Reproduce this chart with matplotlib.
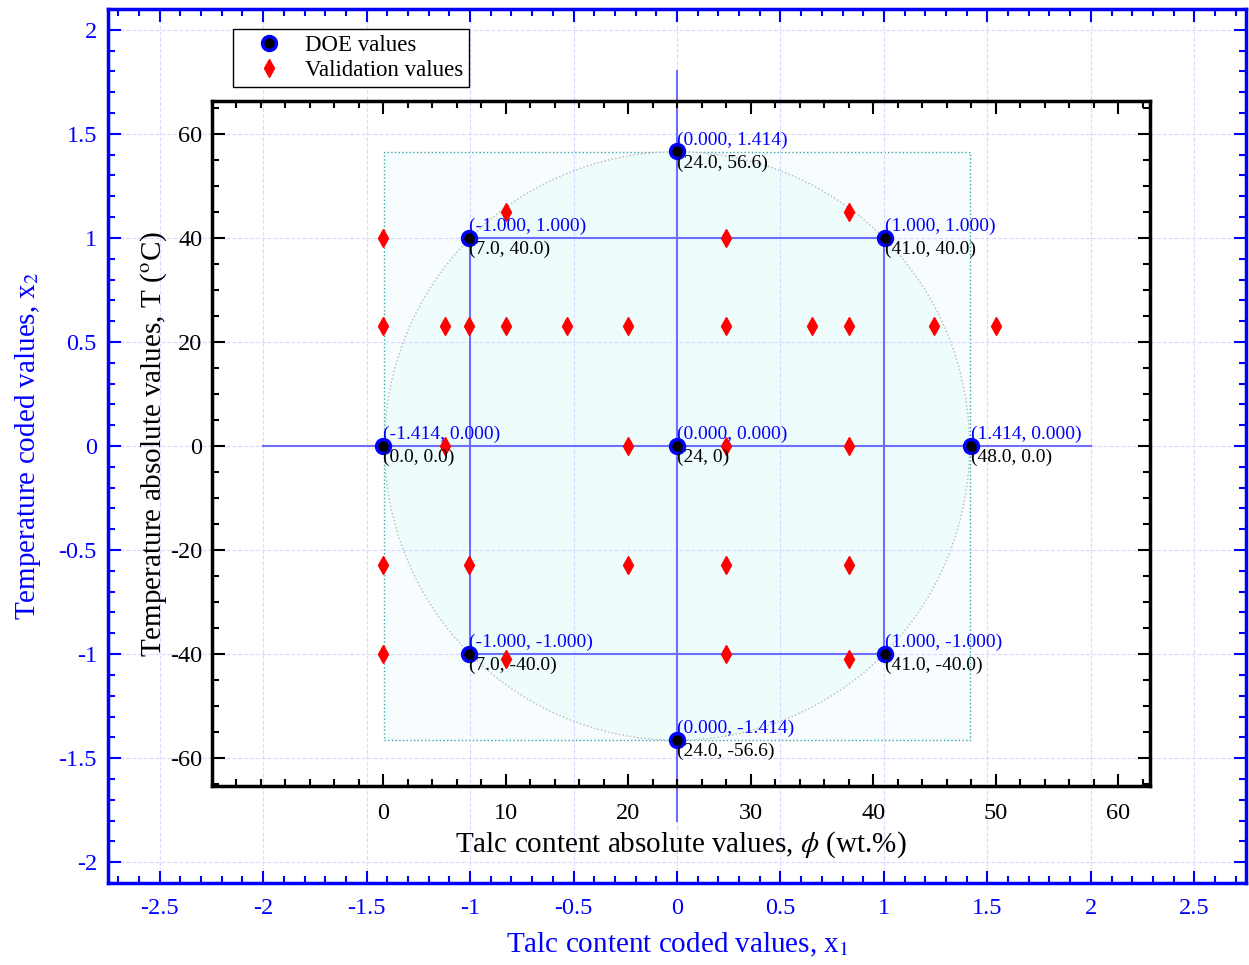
import numpy as np
import matplotlib.pyplot as plt
from matplotlib.patches import Rectangle, Circle
from matplotlib.ticker import MultipleLocator

plt.rcParams['font.family'] = ['Liberation Serif', 'DejaVu Serif']
plt.rcParams['mathtext.fontset'] = 'stix'
plt.rcParams['axes.unicode_minus'] = False

# DOE points (central composite design): coded and absolute values
doe_x1 = [0.0, -1.0, 1.0, -1.414, 0.0, 1.414, -1.0, 1.0, 0.0]
doe_x2 = [1.414, 1.0, 1.0, 0.0, 0.0, 0.0, -1.0, -1.0, -1.414]
doe_phi = [24.0, 7.0, 41.0, 0.0, 24.0, 48.0, 7.0, 41.0, 24.0]
doe_T = [56.6, 40.0, 40.0, 0.0, 0.0, 0.0, -40.0, -40.0, -56.6]
doe_abs_labels = ["(24.0, 56.6)", "(7.0, 40.0)", "(41.0, 40.0)", "(0.0, 0.0)",
                  "(24, 0)", "(48.0, 0.0)", "(7.0, -40.0)", "(41.0, -40.0)",
                  "(24.0, -56.6)"]

# validation runs (absolute values)
val_phi = [0, 28,
           10, 38,
           0, 5, 7, 10, 15, 20, 28, 35, 38, 45, 50,
           5, 20, 28, 38,
           0, 7, 20, 28, 38,
           0, 28,
           10, 38]
val_T = [40, 40,
         45, 45,
         23, 23, 23, 23, 23, 23, 23, 23, 23, 23, 23,
         0, 0, 0, 0,
         -23, -23, -23, -23, -23,
         -40, -40,
         -41, -41]

alpha_star = 1.414

fig = plt.figure(figsize=(12.49, 9.65), dpi=100)
ax_c = fig.add_axes([108/1249, 82/965, 1138/1249, 874/965])
ax_a = fig.add_axes([212/1249, 179/965, 938/1249, 685/965])
ax_a.patch.set_visible(False)

# ---- coded axes (blue, behind) ----
ax_c.set_xlim(-2.75, 2.75)
ax_c.set_ylim(-2.1, 2.1)
ax_c.xaxis.set_minor_locator(MultipleLocator(0.1))
ax_c.yaxis.set_minor_locator(MultipleLocator(0.1))
ax_c.set_xticks(np.arange(-2.5, 2.51, 0.5))
ax_c.set_yticks(np.arange(-2, 2.01, 0.5))
ax_c.set_xticklabels(['-2.5', '-2', '-1.5', '-1', '-0.5', '0', '0.5', '1', '1.5', '2', '2.5'])
ax_c.set_yticklabels(['-2', '-1.5', '-1', '-0.5', '0', '0.5', '1', '1.5', '2'])
ax_c.tick_params(which='both', direction='in', colors='blue', top=True, right=True,
                 width=1.5, labelsize=17.5)
ax_c.tick_params(which='major', length=9)
ax_c.tick_params(which='minor', length=5)
ax_c.tick_params(axis='x', pad=11)
ax_c.tick_params(axis='y', pad=8)
for s in ax_c.spines.values():
    s.set_color('blue')
    s.set_linewidth(2.5)
ax_c.set_axisbelow('line')
ax_c.grid(True, which='major', color='#dadaff', linestyle='--', linewidth=0.8)
ax_c.set_xlabel('Talc content coded values, x$_1$', color='blue', fontsize=21, labelpad=8)
ax_c.set_ylabel('Temperature coded values, x$_2$', color='blue', fontsize=21, labelpad=11)

ax_c.add_patch(Rectangle((-alpha_star, -alpha_star), 2*alpha_star, 2*alpha_star,
                         facecolor='#f7fcff', edgecolor='#3aa8a8', linestyle=':', linewidth=1.0))
ax_c.add_patch(Circle((0, 0), alpha_star, facecolor='#effcfc', edgecolor='#b8b8b8',
                      linestyle=':', linewidth=1.0))

line_kw = dict(color='#6f6fff', linewidth=1.5)
ax_c.plot([0, 0], [-1.8, 1.8], **line_kw)
ax_c.plot([-2, 2], [0, 0], **line_kw)
ax_c.plot([-1, 1, 1, -1, -1], [-1, -1, 1, 1, -1], **line_kw)

# ---- absolute axes (black, front) ----
ax_a.set_xlim(-14, 62.6)
ax_a.set_ylim(-65.4, 66.3)
ax_a.set_xticks(np.arange(0, 61, 10))
ax_a.set_yticks(np.arange(-60, 61, 20))
ax_a.xaxis.set_minor_locator(MultipleLocator(2))
ax_a.yaxis.set_minor_locator(MultipleLocator(5))
ax_a.tick_params(which='both', direction='in', colors='black', top=True, right=True,
                 width=1.5, labelsize=17.5)
ax_a.tick_params(which='major', length=9)
ax_a.tick_params(which='minor', length=5)
ax_a.tick_params(axis='x', pad=12)
ax_a.tick_params(axis='y', pad=7)
for s in ax_a.spines.values():
    s.set_color('black')
    s.set_linewidth(2.5)
ax_a.set_xlabel(r'Talc content absolute values, $\phi$ (wt.%)', fontsize=21, labelpad=4)
ax_a.set_ylabel(r'Temperature absolute values, T ($^{\mathrm{o}}$C)', fontsize=21, labelpad=1)

ax_a.plot(val_phi, val_T, linestyle='none', marker='d', markersize=9,
          color='red', label='Validation values', zorder=4)
ax_a.plot(doe_phi, doe_T, linestyle='none', marker='o', markersize=10,
          markerfacecolor='black', markeredgecolor='blue', markeredgewidth=2.5,
          label='DOE values', zorder=5)

for x1, x2, p, t, lab in zip(doe_x1, doe_x2, doe_phi, doe_T, doe_abs_labels):
    ax_a.annotate('(%.3f, %.3f)' % (x1, x2), (p, t), xytext=(0, 2), textcoords='offset points',
                  ha='left', va='bottom', color='blue', fontsize=14, zorder=6)
    ax_a.annotate(lab, (p, t), xytext=(0, -2), textcoords='offset points',
                  ha='left', va='top', color='black', fontsize=14, zorder=6)

h, l = ax_a.get_legend_handles_labels()
leg = ax_a.legend(h[::-1], l[::-1], loc='upper left', bbox_to_anchor=(233/1249, 1 - 29/965),
                  bbox_transform=fig.transFigure, fontsize=16.5, frameon=True, fancybox=False,
                  framealpha=1, edgecolor='black', borderpad=0.25, labelspacing=0.2,
                  handletextpad=0.3, handlelength=2.6, borderaxespad=0)
leg.get_frame().set_linewidth(1.0)

fig.savefig('out.png', dpi=100)
